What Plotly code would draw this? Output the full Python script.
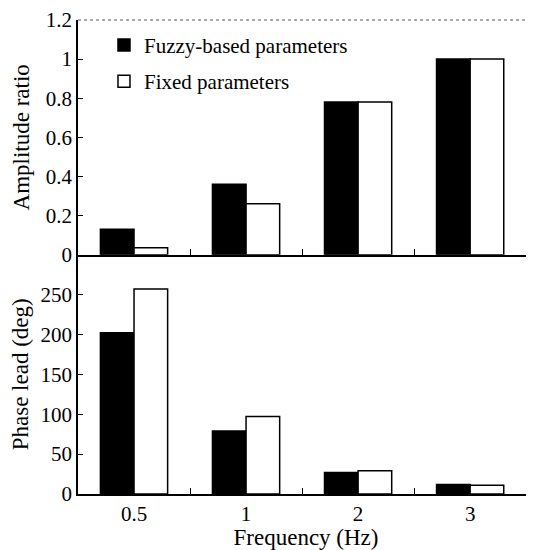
import plotly.graph_objects as go
from plotly.subplots import make_subplots

categories = ["0.5", "1", "2", "3"]
amp_fuzzy = [0.13, 0.36, 0.78, 1.0]
amp_fixed = [0.035, 0.26, 0.78, 1.0]
phase_fuzzy = [202, 79, 27, 12]
phase_fixed = [257, 97, 29, 11]
series_names = ["Fuzzy-based parameters", "Fixed parameters"]

FONT = "Liberation Serif"

fig = make_subplots(rows=2, cols=1, shared_xaxes=True, vertical_spacing=0.0)

fig.add_trace(go.Bar(x=categories, y=amp_fuzzy, name=series_names[0], legendgroup="a",
                     marker=dict(color="black", line=dict(color="black", width=1.5))), row=1, col=1)
fig.add_trace(go.Bar(x=categories, y=amp_fixed, name=series_names[1], legendgroup="b",
                     marker=dict(color="white", line=dict(color="black", width=1.5))), row=1, col=1)
fig.add_trace(go.Bar(x=categories, y=phase_fuzzy, name=series_names[0], showlegend=False, legendgroup="a",
                     marker=dict(color="black", line=dict(color="black", width=1.5))), row=2, col=1)
fig.add_trace(go.Bar(x=categories, y=phase_fixed, name=series_names[1], showlegend=False, legendgroup="b",
                     marker=dict(color="white", line=dict(color="black", width=1.5))), row=2, col=1)

axis_common = dict(showgrid=False, zeroline=False, showline=True, linecolor="black", linewidth=1.5,
                   ticks="inside", tickcolor="black", automargin=False, ticklabeloverflow="allow",
                   tickfont=dict(family=FONT, size=21, color="black"))

# The page body has an 8px margin, so the figure is sized/offset to compensate.
fig.update_layout(
    width=526, height=542,
    margin=dict(l=70, r=0, t=12, b=56, autoexpand=False),
    paper_bgcolor="white", plot_bgcolor="white",
    barmode="group", bargap=0.4, bargroupgap=0.0,
    font=dict(family=FONT, size=21, color="black"),
    legend=dict(x=0.057, y=0.99, xanchor="left", yanchor="top", bgcolor="rgba(0,0,0,0)",
                font=dict(family=FONT, size=21, color="black"), traceorder="grouped",
                tracegroupgap=6),
    xaxis=dict(domain=[0, 1], range=[-0.5, 3.57], tickson="boundaries", ticklen=6, showticklabels=False,
               **axis_common),
    xaxis2=dict(domain=[0, 1], range=[-0.5, 3.57], tickson="boundaries", ticklen=6,
                title=dict(text="Frequency (Hz)", font=dict(family=FONT, size=23), standoff=2),
                **axis_common),
    yaxis=dict(domain=[0.505, 1.0], range=[0, 1.2], tickvals=[0, 0.2, 0.4, 0.6, 0.8, 1.0, 1.2],
               ticktext=["0", "0.2", "0.4", "0.6", "0.8", "1", "1.2"], ticklen=5,
               title=dict(text="Amplitude ratio", font=dict(family=FONT, size=23), standoff=10),
               **axis_common),
    yaxis2=dict(domain=[0.0, 0.505], range=[0, 300], tickvals=[0, 50, 100, 150, 200, 250], ticklen=5,
                title=dict(text="Phase lead (deg)", font=dict(family=FONT, size=23), standoff=10),
                **axis_common),
    showlegend=True,
)

fig.add_shape(type="line", xref="paper", yref="paper", x0=0, x1=1.02, y0=1, y1=1,
              line=dict(color="#555555", width=1, dash="dot"))

fig.write_html("out.html")
